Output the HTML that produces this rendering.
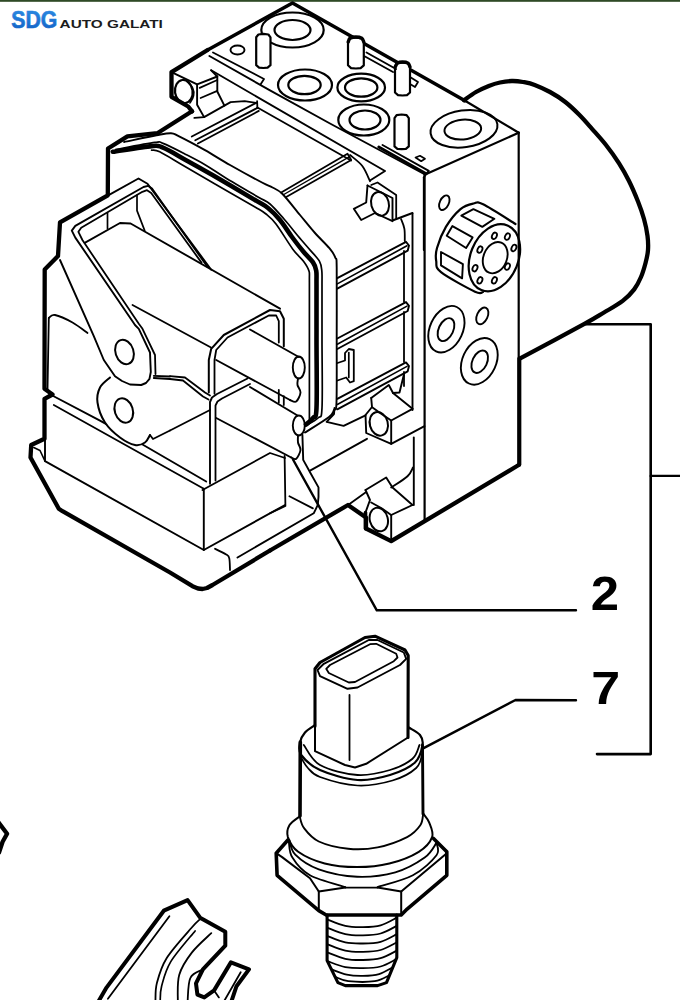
<!DOCTYPE html>
<html><head><meta charset="utf-8"><title>SDG Auto Galati</title>
<style>
html,body{margin:0;padding:0;background:#fff;}
body{width:680px;height:1000px;overflow:hidden;position:relative;font-family:"Liberation Sans",sans-serif;}
.topbar{position:absolute;left:0;top:0;width:680px;height:2px;background:linear-gradient(#2f4a26 0,#2f4a26 60%,#9aa894 100%);}
svg{position:absolute;left:0;top:0;}
</style></head><body>
<div class="topbar"></div>
<svg width="680" height="1000" viewBox="0 0 680 1000">
<defs><linearGradient id="lg" x1="0" y1="0" x2="0" y2="1"><stop offset="0" stop-color="#2f8fe6"/><stop offset="1" stop-color="#0f5fc4"/></linearGradient></defs>
<g fill="none" stroke="#000" stroke-linecap="round" stroke-linejoin="round">
<path d="M586 324.3L650.7 324.3L650.7 754.1L597 754.1" stroke-width="2.6" fill="none"/>
<path d="M650.7 475.9L682 475.9" stroke-width="2.4" fill="none"/>
<path d="M576 610.3L376.8 610.3L293 459.5" stroke-width="2.4" fill="none"/>
<path d="M576 700.2L515.5 700L424.1 747.9" stroke-width="2.4" fill="none"/>
<path d="M192.1 111.4L188.2 106.5L171.5 96.8L171.5 72.1L207.6 50" stroke-width="4.3" fill="none"/>
<path d="M171.5 72.1L197.1 84.4L197.1 104.7L204.1 117.1L224.4 105.6L217.3 91.5L217.3 76.5L211.2 70.3" stroke-width="1.9" fill="none"/>
<path d="M197.1 84.4L217.3 76.5" stroke-width="1.9" fill="none"/>
<path d="M199.7 87.9L217.3 80" stroke-width="1.7" fill="none"/>
<path d="M200.6 98L217.3 90.9" stroke-width="1.7" fill="none"/>
<path d="M194.4 117.9L204.1 117.1" stroke-width="1.9" fill="none"/>
<ellipse cx="183.8" cy="91.5" rx="8.8" ry="11.6" transform="rotate(-8 183.8 91.5)" stroke-width="2.2" fill="none"/>
<path d="M186.5 80.9C187.5 82.1 191.5 85.4 192.6 87.9C193.8 90.4 194 93.4 193.5 95.9C193.1 98.4 190.6 101.8 190 102.9" stroke-width="1.7" fill="none"/>
<path d="M224.4 105.6L230.6 102.1L244.7 101.2L256.2 102.9" stroke-width="1.8" fill="none"/>
<path d="M257.1 101.2L257.4 107.9" stroke-width="1.8" fill="none"/>
<path d="M191.8 136.5L256.2 102.9" stroke-width="1.8" fill="none"/>
<path d="M195.3 140.3L257.4 107.9" stroke-width="1.8" fill="none"/>
<path d="M197.9 143.5L258.8 110.9" stroke-width="1.8" fill="none"/>
<path d="M213 52.5L264 79L260.5 84.5" stroke-width="1.8" fill="none"/>
<path d="M207.6 50L292.5 3L465 100.7" stroke-width="3.6" fill="none"/>
<path d="M465 100.7L518.7 132.7" stroke-width="2.2" fill="none"/>
<ellipse cx="292.5" cy="30" rx="31.2" ry="17.5" transform="rotate(0 292.5 30)" stroke-width="2.2" fill="none"/>
<ellipse cx="292.5" cy="30" rx="18" ry="10" transform="rotate(0 292.5 30)" stroke-width="2.2" fill="none"/>
<ellipse cx="305" cy="85" rx="27" ry="15.5" transform="rotate(0 305 85)" stroke-width="2.2" fill="none"/>
<ellipse cx="304.5" cy="85" rx="16.2" ry="9.2" transform="rotate(0 304.5 85)" stroke-width="2.2" fill="none"/>
<ellipse cx="361.2" cy="87.5" rx="23.8" ry="13.8" transform="rotate(0 361.2 87.5)" stroke-width="2.2" fill="none"/>
<ellipse cx="361.2" cy="87.5" rx="16.2" ry="9.2" transform="rotate(0 361.2 87.5)" stroke-width="2.2" fill="none"/>
<ellipse cx="363.8" cy="120" rx="25.5" ry="15.5" transform="rotate(0 363.8 120)" stroke-width="2.2" fill="none"/>
<ellipse cx="365" cy="120" rx="15.5" ry="9.5" transform="rotate(0 365 120)" stroke-width="2.2" fill="none"/>
<path d="M256.2 65.2L256.2 37.3L258.4 34.5L263.4 33.8L268.4 34.5L270.5 37.3L270.5 65.2L267.6 67.6L263.4 68L259.1 67.6Z" stroke-width="2.2" fill="#fff"/>
<path d="M348 65.3L348 41.4L350.4 38.3L355.9 37.5L361.4 38.3L363.8 41.4L363.8 65.3L360.6 68.1L355.9 68.5L351.1 68.1Z" stroke-width="2.2" fill="#fff"/>
<path d="M395 92.5L395 66.2L397.2 63.2L402.5 62.5L407.8 63.2L410 66.2L410 92.5L407 95.1L402.5 95.5L398 95.1Z" stroke-width="2.2" fill="#fff"/>
<path d="M394.5 146.4L394.5 118.1L396.6 115.2L401.6 114.5L406.6 115.2L408.8 118.1L408.8 146.4L405.9 148.9L401.6 149.2L397.4 148.9Z" stroke-width="2.2" fill="#fff"/>
<path d="M209.4 56L270 90.4L330 123.5L425 174.5" stroke-width="1.9" fill="none"/>
<path d="M211.2 70.3L385 171L370 180.5" stroke-width="1.9" fill="none"/>
<path d="M257.4 107.5L351 160.5" stroke-width="1.8" fill="none"/>
<path d="M350 155C352.1 156.9 359.2 161.9 362.5 166.2C365.8 170.6 368.8 178.8 370 181.2" stroke-width="1.8" fill="none"/>
<path d="M281.2 192.5L347.5 153.8L351.2 160L286.2 197" stroke-width="1.8" fill="none"/>
<path d="M283.8 194.5L349.2 156.8" stroke-width="1.4" fill="none"/>
<path d="M378.8 147L426.2 173.8" stroke-width="2.9" fill="none"/>
<path d="M382.5 145L428.8 170.8L426.2 173.8L423.8 177.5" stroke-width="1.9" fill="none"/>
<path d="M415.5 157.5L420 155.8L425 158.8L421.2 161.2Z" stroke-width="1.7" fill="none"/>
<ellipse cx="380" cy="203.8" rx="8.8" ry="12" transform="rotate(-15 380 203.8)" stroke-width="2" fill="none"/>
<path d="M367.5 185.5L392.5 198L392.5 220.5L412.5 213" stroke-width="1.9" fill="none"/>
<path d="M367.5 185.5L366.2 202.5L353.8 208.8L361.2 220L375 213L392.5 221.2" stroke-width="1.9" fill="none"/>
<path d="M371.2 185L377.5 182.5L396.2 195L396.2 218.8" stroke-width="1.8" fill="none"/>
<path d="M423.8 177.5L423.8 250" stroke-width="1.9" fill="none"/>
<path d="M192 111.3L157.3 133.2L127.4 136.4L108 148.5L107.8 195.3L60 222.4L58 256L44.7 269.5L44.5 388.8L52.5 394.5L44.5 398.8L44.5 438.8L31.2 445L30.5 457.5L58.8 508.8L62.5 511.2L170 572.5L192.5 586.2L198 588.5L202.5 589L207 588L212.5 585L270 550.5" stroke-width="4.3" fill="none"/>
<path d="M108.2 195.3L138.5 178.5L147.5 183.8L211.2 269.7" stroke-width="1.9" fill="none"/>
<path d="M60 260L93.8 336.2L103.8 360L115 376.2L122 381L130 384.5L141.2 385L146 383L149.5 378.8L150.8 372L150.5 365L150 352.5L138.8 328.8L135 325L132.5 321.2L75.3 237.6L71.8 230.6L75.3 225.9L143.5 187L148 185.8L152 188.6L207.6 267" stroke-width="1.9" fill="none"/>
<path d="M155.5 374L155 355L142.5 328.8L138.8 323.8L82.4 240L78.4 231.8L81.2 227.8L142.4 191.8L147 190.2L151.2 193L201.5 262.6" stroke-width="1.8" fill="none"/>
<path d="M84.7 242.8L120 223L130.6 223.5L280 308.7" stroke-width="1.9" fill="none"/>
<path d="M107.5 213L107.5 228.5" stroke-width="1.7" fill="none"/>
<path d="M137 195.3L137 210.6L144.7 230.6" stroke-width="1.7" fill="none"/>
<path d="M132.5 305L211 347.5" stroke-width="1.8" fill="none"/>
<path d="M48.8 318C49.8 317.5 51 314.2 55 315C59 315.8 67.1 319.5 72.5 322.5C77.9 325.5 85 331.2 87.5 333" stroke-width="1.8" fill="none"/>
<path d="M48.8 318L47.5 390" stroke-width="1.8" fill="none"/>
<path d="M283.8 346.2L283.8 318.8L280 311.2L270 310L223.8 335L211.2 348.8L208.8 360L208.8 392.5" stroke-width="2" fill="none"/>
<path d="M278.8 342.5L278.8 321.2L276.2 315.5L268.8 315.5L227.5 337.5L216.2 350L214.5 360L214.5 393.8" stroke-width="1.8" fill="none"/>
<path d="M250 329.5L298.8 357" stroke-width="1.9" fill="none"/>
<path d="M216.2 360L290 400" stroke-width="1.9" fill="none"/>
<ellipse cx="298.8" cy="367.5" rx="6" ry="11" transform="rotate(0 298.8 367.5)" stroke-width="1.9" fill="none"/>
<path d="M290 400C291 400.2 294.5 402.8 296.2 401.5C298 400.2 300.3 395.2 300.5 392.5C300.7 389.8 297.9 387.3 297.5 385C297.1 382.7 297.9 379.6 298 378.5" stroke-width="1.9" fill="none"/>
<path d="M250 387L297.5 415.5" stroke-width="1.9" fill="none"/>
<path d="M216.2 418L291.2 457.5" stroke-width="1.9" fill="none"/>
<ellipse cx="298.8" cy="425.5" rx="6" ry="10" transform="rotate(0 298.8 425.5)" stroke-width="1.9" fill="none"/>
<path d="M291.2 457.5C292.1 457.7 294.7 460 296.2 458.8C297.8 457.5 300.2 452.7 300.5 450C300.8 447.3 298.4 444.9 298 442.5C297.6 440.1 298 436.7 298 435.5" stroke-width="1.9" fill="none"/>
<path d="M170 376.2L185 377.5L205 392.5L210 395.5" stroke-width="1.8" fill="none"/>
<path d="M210 483.8L210 402L212 397.5L217 394L247.5 378.5" stroke-width="1.9" fill="none"/>
<path d="M215.5 480.5L215.5 405.5L217.5 401.5L222 398.5L250 384" stroke-width="1.8" fill="none"/>
<path d="M278.8 390L278.8 402.5" stroke-width="1.8" fill="none"/>
<path d="M283.8 396.2L283.8 405" stroke-width="1.8" fill="none"/>
<path d="M170 430.5L210 410" stroke-width="1.8" fill="none"/>
<path d="M202.5 490L270 453L285 458" stroke-width="1.8" fill="none"/>
<path d="M124.1 142C129.5 140.9 148.7 136.8 156.5 135.3C164.3 133.8 167.2 133 171 133.2C174.8 133.4 173.4 133.6 179.1 136.4C184.8 139.2 196.5 145.4 205 150.2C213.5 155 220.5 159.6 230 165C239.5 170.4 254.9 178.8 262 182.5C269.1 186.2 269.1 185.6 272.5 187.5C275.9 189.4 277.9 189.4 282.5 194C287.1 198.6 294.6 208.5 300 215C305.4 221.5 310.1 227.5 315 233C319.9 238.5 326 244.1 329.4 248.2C332.8 252.3 334.1 254.3 335.3 257.6C336.5 260.9 336.5 254.3 336.7 268C336.9 281.7 336.7 317.7 336.7 340C336.7 362.3 336.9 390.3 336.5 402C336.1 413.7 335.2 407.5 334 410C332.8 412.5 333.8 413.2 329 417C324.2 420.8 309 429.9 305 432.5" stroke-width="1.9" fill="none"/>
<path d="M116 149.4C122.5 148.2 147.1 143.4 154.9 142.4C162.7 141.4 158.2 141.6 163 143.4C167.8 145.2 177 149.9 184 153.5C191 157.1 198.2 160.7 205 164.7C211.8 168.7 216.2 172.1 225 177.5C233.8 182.9 250.5 192.6 258 197C265.5 201.4 265.7 200.3 270 204C274.3 207.7 279.3 213.7 284 219C288.7 224.3 293.6 230.7 298 236C302.4 241.3 307 246.4 310.6 250.6C314.2 254.8 317.5 257.9 319.4 261.2C321.3 264.5 321.4 266.6 321.8 270.6C322.2 274.6 322 273.4 322 285C322 296.6 322 319.5 322 340C322 360.5 322.7 395 322 408C321.3 421 320.8 415 318 418C315.2 421 307.2 424.7 305 426" stroke-width="1.7" fill="none"/>
<path d="M112.8 151.8C119.3 150.9 143.2 146.8 151.6 146.1C160 145.4 157.3 145.4 163 147.7C168.7 150 177.3 155.3 185.6 159.9C193.8 164.5 200.9 168.3 212.5 175C224.1 181.7 245.8 194.5 255 200C264.2 205.5 263.8 204.7 268 208C272.2 211.3 276 215.2 280 220C284 224.8 288.1 231.7 292 237C295.9 242.3 300 247.6 303.5 251.8C307 256 310.9 259.3 313 262.4C315.1 265.5 315.6 266.8 316.2 270.6C316.8 274.4 316.4 273.4 316.5 285C316.6 296.6 316.5 319.5 316.5 340C316.5 360.5 317.1 395 316.5 408C315.9 421 314.8 415.2 313 418C311.2 420.8 307.2 423.4 306 424.5" stroke-width="4.6" fill="none"/>
<path d="M151.6 150.2C152.9 150.5 154.6 149.3 159.7 151.8C164.8 154.3 173.2 159.6 182.4 165C191.6 170.4 202.9 177 215 184C227.1 191 246.5 202 255 207C263.5 212 262.5 211.2 266 214C269.5 216.8 271.5 218.1 276 224C280.5 229.9 288.4 243.2 293 249.4C297.6 255.6 300.9 257.7 303.5 261.2C306.1 264.7 307.8 267.1 308.8 270.6C309.8 274.1 309.3 270.4 309.4 282C309.5 293.6 309.4 317 309.4 340C309.4 363 309.4 406.7 309.4 420" stroke-width="1.7" fill="none"/>
<path d="M464 100.2C466 98.8 471.9 94.4 476 92C480.1 89.6 484.8 87.6 488.8 86C492.8 84.4 496.2 83.3 500 82.5C503.8 81.7 508 81.1 511.8 81C515.6 80.9 519.2 81.3 523 82C526.8 82.7 530.2 83.2 534.7 84.9C539.2 86.6 544.9 89.2 550 92C555.1 94.8 560.5 98.2 565.3 102C570.1 105.8 574.5 110 579 114.5C583.5 119 587.5 123.7 592 128.8C596.5 133.9 601.5 139.3 606 145C610.5 150.7 615.1 157.2 618.9 163.2C622.7 169.2 625.8 174.6 629 181C632.2 187.4 635.5 195.2 638 201.5C640.5 207.8 642.4 213.3 644 219C645.6 224.7 646.8 230.7 647.5 235.9C648.2 241.1 648.3 245.5 648 250C647.7 254.5 646.8 258.2 645.6 262.7C644.4 267.2 642.9 272.6 641 277C639.1 281.4 637.2 285.4 634.2 289.4C631.2 293.4 627.7 297 622.7 300.9C617.7 304.8 610.4 308.7 604 312.5C597.6 316.3 598.4 316.3 584.4 323.9C570.4 331.5 530.9 352.6 520.2 358.3" stroke-width="4.3" fill="none"/>
<path d="M424.6 174.7L518.7 132.7" stroke-width="2.2" fill="none"/>
<path d="M518.7 132.7L518.7 465" stroke-width="2.2" fill="none"/>
<path d="M424.6 174.7L424.6 521" stroke-width="2.2" fill="none"/>
<ellipse cx="464" cy="128.8" rx="33.7" ry="18.4" transform="rotate(-8 464 128.8)" stroke-width="2" fill="none"/>
<ellipse cx="462.8" cy="129.6" rx="18.4" ry="9.9" transform="rotate(-5 462.8 129.6)" stroke-width="2" fill="none"/>
<ellipse cx="444.3" cy="202.7" rx="4.5" ry="7.8" transform="rotate(25 444.3 202.7)" stroke-width="1.9" fill="none"/>
<ellipse cx="494.4" cy="257.7" rx="23.9" ry="34.8" transform="rotate(22 494.4 257.7)" stroke-width="2.2" fill="none"/>
<path d="M515.5 224C510.1 220.7 490.1 207.7 483.1 204.3C476.1 200.8 477.2 202.7 473.4 203.5C469.6 204.3 465 205.2 460.5 209.1C455.9 213 449.8 220.5 445.9 226.9C442 233.4 438.6 242.3 437 248C435.4 253.6 435.5 256.9 436.2 260.9C436.9 265 434.6 267.1 441 272.2C447.5 277.4 468 288.4 475 291.7C482 294.9 481.8 291.9 483.1 292" stroke-width="2.2" fill="none"/>
<ellipse cx="495.2" cy="257.7" rx="11.7" ry="16.2" transform="rotate(22 495.2 257.7)" stroke-width="1.9" fill="none"/>
<ellipse cx="494.4" cy="235.8" rx="2.3" ry="3.4" transform="rotate(25 494.4 235.8)" stroke-width="1.8" fill="none"/>
<ellipse cx="507.4" cy="236.6" rx="2.3" ry="3.4" transform="rotate(25 507.4 236.6)" stroke-width="1.8" fill="none"/>
<ellipse cx="513.9" cy="248" rx="2.3" ry="3.4" transform="rotate(25 513.9 248)" stroke-width="1.8" fill="none"/>
<ellipse cx="507.4" cy="266.6" rx="2.3" ry="3.4" transform="rotate(25 507.4 266.6)" stroke-width="1.8" fill="none"/>
<ellipse cx="494.4" cy="280.3" rx="2.3" ry="3.4" transform="rotate(25 494.4 280.3)" stroke-width="1.8" fill="none"/>
<ellipse cx="479.9" cy="280.3" rx="2.3" ry="3.4" transform="rotate(25 479.9 280.3)" stroke-width="1.8" fill="none"/>
<ellipse cx="475" cy="268.2" rx="2.3" ry="3.4" transform="rotate(25 475 268.2)" stroke-width="1.8" fill="none"/>
<ellipse cx="479.9" cy="249.6" rx="2.3" ry="3.4" transform="rotate(25 479.9 249.6)" stroke-width="1.8" fill="none"/>
<path d="M461.3 215.6L473.4 209.1L494.4 218.8L482.3 226.9Z" stroke-width="1.9" fill="none"/>
<path d="M446.7 235.8L452.4 226.1L472.6 237.4L466.1 248Z" stroke-width="1.9" fill="none"/>
<path d="M441 252L462.9 264.1L462.1 278.4L441 265.4Z" stroke-width="1.9" fill="none"/>
<ellipse cx="482.3" cy="315.9" rx="5.3" ry="8.9" transform="rotate(25 482.3 315.9)" stroke-width="1.9" fill="none"/>
<ellipse cx="446.4" cy="329.2" rx="16.4" ry="24.5" transform="rotate(25 446.4 329.2)" stroke-width="1.9" fill="none"/>
<ellipse cx="446" cy="329.6" rx="7.3" ry="12.2" transform="rotate(25 446 329.6)" stroke-width="1.9" fill="none"/>
<ellipse cx="479.3" cy="361.3" rx="16.8" ry="24.5" transform="rotate(25 479.3 361.3)" stroke-width="1.9" fill="none"/>
<ellipse cx="479.7" cy="361.7" rx="7.3" ry="11.9" transform="rotate(25 479.7 361.7)" stroke-width="1.9" fill="none"/>
<path d="M366.5 52.5L396 69" stroke-width="1.9" fill="none"/>
<path d="M365 56.5L393 72" stroke-width="1.9" fill="none"/>
<path d="M410 77L418 82L415 87L410 84" stroke-width="1.8" fill="none"/>
<path d="M337.3 278.2L406 241.8L409 245.5L407.7 250.7L337.3 288.7" stroke-width="1.9" fill="none"/>
<path d="M337.3 283.9L407 245.8" stroke-width="1.6" fill="none"/>
<path d="M337.3 338.5L406 302.1L409 305.8L407.7 311L337.3 349" stroke-width="1.9" fill="none"/>
<path d="M337.3 344.2L407 306.1" stroke-width="1.6" fill="none"/>
<path d="M337.3 398.8L406 362.4L409 366.1L407.7 371.3L337.3 409.3" stroke-width="1.9" fill="none"/>
<path d="M337.3 404.5L407 366.4" stroke-width="1.6" fill="none"/>
<path d="M412.5 213.5L412.5 410" stroke-width="1.9" fill="none"/>
<path d="M404 251L404 302" stroke-width="1.8" fill="none"/>
<path d="M404 312L404 362" stroke-width="1.8" fill="none"/>
<path d="M404 372L404 386" stroke-width="1.8" fill="none"/>
<path d="M401 219C401.6 220.6 403.8 225.1 404.4 228.8C405 232.5 404.7 239 404.8 241" stroke-width="1.8" fill="none"/>
<path d="M270 550.5L348 505L366 517.5L366 528.5L391.2 541.2L518.7 465" stroke-width="4.3" fill="none"/>
<path d="M365.5 512.5L365.5 528.8" stroke-width="3.6" fill="none"/>
<path d="M302.4 434.8L303.2 459.9L311 474L318.5 487.4L318.5 497L317.7 505.2L313.7 513.3L237.5 557.5" stroke-width="1.9" fill="none"/>
<path d="M310.5 470.4L367 438.8" stroke-width="1.9" fill="none"/>
<path d="M289.4 496.3L312.9 508.4" stroke-width="1.8" fill="none"/>
<path d="M284.6 455.8L285.4 506L270 513.3" stroke-width="1.8" fill="none"/>
<path d="M334.5 408L334 414L326.6 421.8L343.6 425.9L365.5 415.4" stroke-width="1.9" fill="none"/>
<ellipse cx="378.8" cy="423.8" rx="9" ry="12" transform="rotate(-15 378.8 423.8)" stroke-width="2" fill="none"/>
<path d="M371.2 398L388.8 385L393 393L399.5 392.5L403.8 375" stroke-width="1.9" fill="none"/>
<path d="M371.2 398L372 407L365.5 415L366.2 433L391.2 443.8L391.2 420.5L381.2 413.8L372.5 407.5" stroke-width="1.9" fill="none"/>
<path d="M391.2 443.8L424.5 426.2" stroke-width="1.9" fill="none"/>
<path d="M393 393L412.5 408.8" stroke-width="1.9" fill="none"/>
<path d="M391.2 420.5L412.5 408.8" stroke-width="1.9" fill="none"/>
<path d="M413.8 437.5L413.8 505" stroke-width="1.9" fill="none"/>
<ellipse cx="378.8" cy="519.5" rx="9" ry="12" transform="rotate(-15 378.8 519.5)" stroke-width="2" fill="none"/>
<path d="M365.5 490L386.2 477.5L392.5 487.5L412.5 505" stroke-width="1.9" fill="none"/>
<path d="M365.5 490L370 500L365.5 512.5" stroke-width="1.9" fill="none"/>
<path d="M391.2 541.2L391.2 515L381.2 508L371.2 502.5" stroke-width="1.9" fill="none"/>
<path d="M391.2 515L412.5 505" stroke-width="1.9" fill="none"/>
<path d="M391.2 487.5C394 485.6 403.9 479.6 407.5 476.2C411.1 472.9 412.1 469 413 467.5" stroke-width="1.9" fill="none"/>
<path d="M348.8 504.5L365.5 492.5" stroke-width="1.8" fill="none"/>
<path d="M337.5 363L345 360.5L345 353L348.8 349L353.8 350L353.8 381.2L350 382.5L346.2 377.5L337.5 380.5" stroke-width="1.8" fill="none"/>
<path d="M348.8 352.5L348.8 377.5" stroke-width="1.7" fill="none"/>
<path d="M33.8 447.5L40 450.5L45 461.2" stroke-width="1.6" fill="none"/>
<path d="M49.4 394L100 420.6L142.5 444.5L206.2 481.5" stroke-width="1.9" fill="none"/>
<path d="M53.8 405L203.8 488.8" stroke-width="1.8" fill="none"/>
<path d="M45 440L45 461.2L203.8 550L285 505" stroke-width="1.9" fill="none"/>
<path d="M203.8 488.8L203.8 550" stroke-width="1.9" fill="none"/>
<ellipse cx="124.5" cy="352" rx="9" ry="12.5" transform="rotate(-18 124.5 352)" stroke-width="2" fill="none"/>
<path d="M110 377.5C108.3 379.2 102.1 383.3 100 387.5C97.9 391.7 96.7 396.7 97.5 402.5C98.3 408.3 101.2 416.7 105 422.5C108.8 428.3 115 433.8 120 437.5C125 441.2 130.8 444.2 135 445C139.2 445.8 142.5 444.2 145 442.5C147.5 440.8 149.2 436.2 150 435" stroke-width="2" fill="#fff"/>
<ellipse cx="123.8" cy="410.5" rx="9" ry="12.5" transform="rotate(-18 123.8 410.5)" stroke-width="2" fill="none"/>
<path d="M153.8 375.8L170 376.5" stroke-width="1.8" fill="none"/>
<path d="M153.8 378L170 379" stroke-width="1.8" fill="none"/>
<path d="M150 435L153 439L170 430.5" stroke-width="1.8" fill="none"/>
<path d="M215 548.8C216.9 549.7 223.9 553 226.2 554.5C228.6 556 228.6 555.4 229.2 558C229.9 560.6 229.9 568 230 570" stroke-width="1.8" fill="none"/>
<path d="M315 726.2L315 668.8L320 662.5L365 637.5L375 636.2L405 650L408.2 655.5L408 737.5" stroke-width="3.1" fill="none"/>
<path d="M408 737.5L366.2 763.8L355 767.5L345 765L315 751.2L315 726.2" stroke-width="2" fill="none"/>
<path d="M317.5 670L323.8 663.8L368.8 640L377.5 640L403.8 652.5L406.2 658.8L400 665L357.5 687.5L347.5 688.8L320 676.2Z" stroke-width="1.9" fill="none"/>
<path d="M326.2 668.8L330 665L370 644.2L376.2 643.8L396.2 653.8L397.5 657.5L393.8 661.2L355 682L348.8 682.5L328.8 673Z" stroke-width="1.8" fill="none"/>
<path d="M349.5 695L349.5 760" stroke-width="1.8" fill="none"/>
<path d="M315 725C313.3 726.2 307.5 729.6 305 732.5C302.5 735.4 300.6 738.8 300 742.5C299.4 746.2 297.9 750.4 301.2 755C304.6 759.6 310.6 765.8 320 770C329.4 774.2 345.8 779.2 357.5 780C369.2 780.8 380.4 777.9 390 775C399.6 772.1 409.6 767.5 415 762.5C420.4 757.5 421.7 749.6 422.5 745C423.3 740.4 422.3 737.9 420 735C417.7 732.1 410.6 728.8 408.8 727.5" stroke-width="2.2" fill="none"/>
<path d="M303.8 745C306.5 748.3 311 760 320 765C329 770 345.8 774.2 357.5 775C369.2 775.8 380.8 772.7 390 770C399.2 767.3 407.6 762.9 412.5 758.8C417.4 754.6 418.3 747.3 419.5 745" stroke-width="1.8" fill="none"/>
<path d="M300.3 742L300 816" stroke-width="3.6" fill="none"/>
<path d="M422.5 745L423 814" stroke-width="2.9" fill="none"/>
<path d="M299.7 816.5C300.4 818.4 300.9 824.1 304.1 828.2C307.3 832.4 311.5 838 318.8 841.5C326.2 844.9 338.4 847.8 348.2 848.8C358 849.8 367.8 849.3 377.6 847.4C387.5 845.4 400 840.7 407.1 837.1C414.2 833.4 417.6 829.2 420.3 825.3C423 821.4 422.7 815.5 423.2 813.5" stroke-width="1.9" fill="none"/>
<path d="M299.7 816.5C298 817.9 291.4 821.9 289.4 825.3C287.5 828.7 286.5 832.6 287.9 837.1C289.4 841.5 292.1 847.4 298.2 851.8C304.4 856.2 314.9 861 324.7 863.5C334.5 866.1 346.3 867.1 357.1 867.1C367.8 867.1 379.1 866.1 389.4 863.5C399.7 861 411.7 856.2 418.8 851.8C425.9 847.4 430.3 842 432.1 837.1C433.8 832.2 430.6 826.3 429.1 822.4C427.6 818.4 424.2 815 423.2 813.5" stroke-width="2" fill="none"/>
<path d="M289.4 840C290.4 842.5 290.4 849.8 295.3 854.7C300.2 859.6 308.5 865.7 318.8 869.4C329.1 873.1 344.3 876.3 357.1 876.8C369.8 877.3 384 875.5 395.3 872.4C406.6 869.2 417.8 862.5 424.7 857.6C431.6 852.7 434.5 845.4 436.5 842.9" stroke-width="1.9" fill="none"/>
<path d="M288.8 841.5C289.4 844.2 288.8 852 292.4 857.6C295.9 863.3 301.2 870.4 310 875.3C318.8 880.2 339.4 885.1 345.3 887.1" stroke-width="1.8" fill="none"/>
<path d="M377.6 887.1C383.5 885.1 403.1 880.6 412.9 875.3C422.7 870 432.5 860.7 436.5 855.3C440.4 849.9 436.5 845 436.5 842.9" stroke-width="1.8" fill="none"/>
<path d="M287.9 840L276.2 853.2L277.1 875.3L318.8 910.6L326.2 915L401.2 915L407.1 909.1L446.8 875.3L446.8 851.8L433.5 838.5" stroke-width="3.6" fill="none"/>
<path d="M276.2 853.2L282.1 857.1L310 878.2L318.8 891.5L345.3 887.6" stroke-width="2" fill="none"/>
<path d="M377.6 887.6L401.2 891.5L446.8 853.2" stroke-width="2" fill="none"/>
<path d="M318.8 891.5L318.8 910.6" stroke-width="2" fill="none"/>
<path d="M401.2 891.5L401.2 915" stroke-width="2" fill="none"/>
<path d="M345.3 887.6L377.6 887.6" stroke-width="1.9" fill="none"/>
<path d="M327.1 915L327.1 960.6L337.9 982.6L345.3 985.6L377.6 985.6L386.5 982.6L396.8 957.6L396.8 915" stroke-width="3.1" fill="none"/>
<path d="M327.1 919.4C330.1 920.5 339.3 924.6 345.3 925.9C351.3 927.2 357.1 927.2 362.9 927.1C368.8 927 375 926.9 380.6 925.3C386.2 923.7 394.1 918.9 396.8 917.6" stroke-width="1.8" fill="none"/>
<path d="M327.1 927.6C330.1 928.7 339.3 932.8 345.3 934.1C351.3 935.4 357.1 935.4 362.9 935.3C368.8 935.2 375 935.1 380.6 933.5C386.2 932 394.1 927.2 396.8 925.9" stroke-width="1.8" fill="none"/>
<path d="M327.1 935.9C330.1 937 339.3 941.1 345.3 942.4C351.3 943.6 357.1 943.6 362.9 943.5C368.8 943.4 375 943.3 380.6 941.8C386.2 940.2 394.1 935.4 396.8 934.1" stroke-width="1.8" fill="none"/>
<path d="M327.1 944.1C330.1 945.2 339.3 949.3 345.3 950.6C351.3 951.9 357.1 951.9 362.9 951.8C368.8 951.7 375 951.6 380.6 950C386.2 948.4 394.1 943.6 396.8 942.4" stroke-width="1.8" fill="none"/>
<path d="M327.1 952.4C330.1 953.4 339.3 957.5 345.3 958.8C351.3 960.1 357.1 960.1 362.9 960C368.8 959.9 375 959.8 380.6 958.2C386.2 956.7 394.1 951.9 396.8 950.6" stroke-width="1.8" fill="none"/>
<path d="M335 976.8C337.2 977.5 341.6 980.4 348.2 981.2C354.9 981.9 367.8 982.2 374.7 981.2C381.6 980.2 387 976.3 389.4 975.3" stroke-width="1.8" fill="none"/>
<path d="M96.8 1004.3L106.5 987.6L163.8 910.7L187.6 900.1L200.1 917.7L225.3 931.7L225.3 945.7L202.9 969.4L196 983.4L197.4 994.6L204.3 997.4L214.1 990.4L230.9 962.4L249 969.4L236.5 986.2L230.9 1002.9" stroke-width="4" fill="none"/>
<path d="M107.9 998.7L169.4 916.3" stroke-width="1.8" fill="none"/>
<path d="M155.4 1001.5C155.7 998.5 155 990.6 156.8 983.4C158.7 976.2 160.8 967.5 166.6 958.2C172.4 948.9 186.2 934 191.8 927.5C197.4 921 198.7 920.5 200.1 919.1" stroke-width="1.8" fill="none"/>
<path d="M160.2 1001.5C160.4 999 159.8 992.8 161.6 986.2C163.4 979.5 165.2 970.8 170.8 961.6C176.4 952.4 191.1 936 195.1 930.9" stroke-width="1.7" fill="none"/>
<path d="M177.8 1001.5C178 997.1 176.9 983.1 179.2 975C181.5 966.8 186.4 959.6 191.8 952.6C197.1 945.7 208.1 936.3 211.3 933.1" stroke-width="1.8" fill="none"/>
<path d="M187.6 1001.5C188 997.6 187.8 983.1 190.4 977.8C192.9 972.4 200.8 970.8 202.9 969.4" stroke-width="1.8" fill="none"/>
<path d="M240.7 972.2L223.9 1001.5" stroke-width="1.8" fill="none"/>
<path d="M214.1 990.4L218.9 997.4" stroke-width="1.8" fill="none"/>
<path d="M-1.8 822L7.1 833.8L2.6 841.8L-0.9 852.3" stroke-width="4.3" fill="none"/>
<path d="M170 379L183 380.5L203 396.5L208.5 399.5" stroke-width="1.8" fill="none"/>
<ellipse cx="237.5" cy="50" rx="7" ry="4.5" transform="rotate(0 237.5 50)" stroke-width="1.9" fill="none"/>
<path d="M300.5 756.2C301.7 758.1 304.2 764 307.5 767.5C310.8 771 311.7 774 320 777C328.3 780 345.4 784.9 357.5 785.5C369.6 786.1 382.7 783.4 392.5 780.5C402.3 777.6 411.3 772.5 416.2 768C421.2 763.5 421.2 756.1 422.2 753.8" stroke-width="1.7" fill="none"/>
<path d="M519.3 358.5L519.3 464.6" stroke-width="4.1" fill="none"/>
<path d="M348.2 42C348.5 41.4 348.8 39.1 350 38.2C351.2 37.4 353.8 37 355.8 37C357.7 37 360.4 37.4 361.8 38.2C363.1 39.1 363.4 41.4 363.8 42" stroke-width="3.4" fill="none"/>
<path d="M395.2 67C395.6 66.4 396.3 64.1 397.5 63.2C398.7 62.4 400.8 62 402.5 62C404.2 62 406.8 62.4 408 63.2C409.2 64.1 409.7 66.4 410 67" stroke-width="3.4" fill="none"/>
<path d="M327.6 961.2C330.6 962.2 339.4 965.9 345.3 967.1C351.2 968.2 357.1 968.3 362.9 968.2C368.8 968.1 375.1 967.9 380.6 966.5C386.1 965 393.3 960.6 395.9 959.4" stroke-width="1.8" fill="none"/>
<path d="M331.5 969.4C334 970.3 341.5 973.6 346.8 974.7C352 975.8 357.5 976 362.9 975.9C368.3 975.8 374.2 975.5 379.1 974.1C384 972.7 390.1 968.7 392.4 967.6" stroke-width="1.8" fill="none"/>
</g>
<text x="11.3" y="27.8" font-family="Liberation Sans, sans-serif" font-weight="bold" font-size="24.2" fill="url(#lg)" stroke="url(#lg)" stroke-width="0.7" textLength="46" lengthAdjust="spacingAndGlyphs">SDG</text>
<text x="59.6" y="27.6" font-family="Liberation Sans, sans-serif" font-weight="bold" font-size="10.2" fill="#1c1c1c" textLength="103.3" lengthAdjust="spacingAndGlyphs">AUTO GALATI</text>
<text transform="translate(590.8 610) scale(1.07 1)" font-family="Liberation Sans, sans-serif" font-weight="bold" font-size="47.5" fill="#000">2</text>
<text transform="translate(591.2 703.8) scale(1.13 1)" font-family="Liberation Sans, sans-serif" font-weight="bold" font-size="46" fill="#000">7</text>
</svg>
</body></html>
